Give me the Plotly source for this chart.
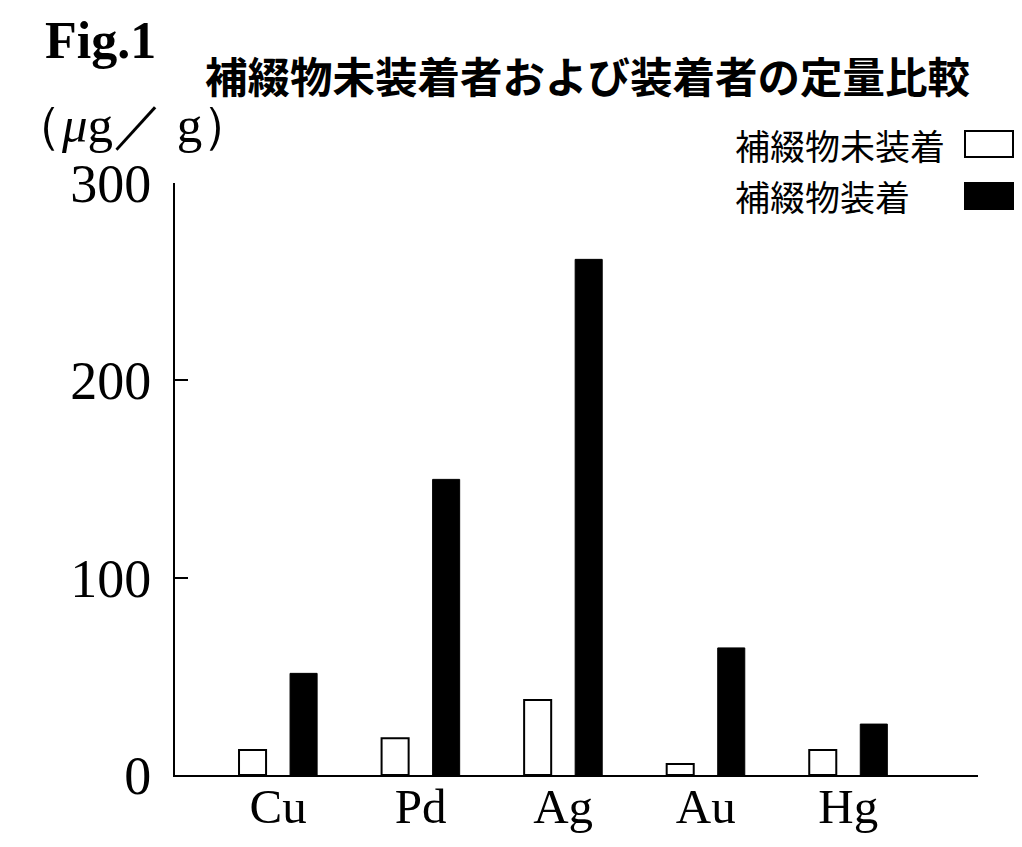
import plotly.graph_objects as go

categories = ["Cu", "Pd", "Ag", "Au", "Hg"]
series_names = ["補綴物未装着", "補綴物装着"]
values_without = [12.7, 18.6, 38.0, 5.6, 12.7]
values_with = [51.5, 149.8, 261.3, 64.4, 25.8]
y_ticks = [0, 100, 200, 300]

OFF = 8  # page body margin
W, H = 1022 - 2 * OFF, 847 - 2 * OFF
L, T = 175 - OFF, 183 - OFF
PW, PH = 803, 592
R, B = W - L - PW, H - T - PH


def px(x, y):
    return (x - OFF - L) / PW, (T + PH - (y - OFF)) / PH


serif = "Liberation Serif, Times New Roman, serif"
gothic = "Noto Sans CJK JP, sans-serif"

fig = go.Figure()
fig.add_trace(go.Bar(x=categories, y=values_without, name=series_names[0],
                     marker=dict(color="white", line=dict(color="black", width=2)),
                     showlegend=False))
fig.add_trace(go.Bar(x=categories, y=values_with, name=series_names[1],
                     marker=dict(color="black", line=dict(color="black", width=1)),
                     showlegend=False))

annotations = []
fx, fy = px(100, 40)
annotations.append(dict(text="<b>Fig.1</b>", x=fx, y=fy, xref="paper", yref="paper",
                        xanchor="center", yanchor="middle", showarrow=False,
                        font=dict(family=serif, size=52, color="black")))
tx, ty = px(587, 75)
annotations.append(dict(text="<b>補綴物未装着者および装着者の定量比較</b>", x=tx, y=ty,
                        xref="paper", yref="paper", xanchor="center", yanchor="middle",
                        showarrow=False, font=dict(family=gothic, size=42.5, color="black")))
ux, uy = px(9, 125)
annotations.append(dict(text="（<i>μ</i>g／ g）", x=ux, y=uy, xref="paper", yref="paper",
                        xanchor="left", yanchor="middle", showarrow=False,
                        font=dict(family=serif, size=51, color="black")))

shapes = []
legend_rows = [(series_names[0], 144, "white"), (series_names[1], 196, "black")]
for name, yc, col in legend_rows:
    lx, ly = px(733, yc)
    annotations.append(dict(text=name, x=lx, y=ly, xref="paper", yref="paper",
                            xanchor="left", yanchor="middle", showarrow=False,
                            font=dict(family=gothic, size=35, color="black")))
    x0, y0 = px(965, yc - 13)
    x1, y1 = px(1013, yc + 13)
    shapes.append(dict(type="rect", xref="paper", yref="paper", x0=x0, x1=x1, y0=y1, y1=y0,
                       fillcolor=col, line=dict(color="black", width=2)))

fig.update_layout(
    width=W, height=H,
    margin=dict(l=L, r=R, t=T, b=B, autoexpand=False),
    paper_bgcolor="white", plot_bgcolor="white",
    barmode="group", bargap=0.284, bargroupgap=0.47,
    annotations=annotations, shapes=shapes,
    showlegend=False,
)
fig.update_xaxes(range=[-0.723, 4.91], showline=True, linecolor="black", linewidth=2,
                 ticks="", showgrid=False, zeroline=False, ticklabelstandoff=-13,
                 tickfont=dict(family=serif, size=49, color="black"))
fig.update_yaxes(range=[0, 300], tickvals=y_ticks, ticktext=[str(v) for v in y_ticks],
                 showline=True, linecolor="black", linewidth=2, ticks="inside",
                 ticklen=13, tickwidth=2, tickcolor="black", showgrid=False, zeroline=False,
                 ticklabelstandoff=11,
                 tickfont=dict(family=serif, size=54, color="black"))

fig.write_html("out.html")
